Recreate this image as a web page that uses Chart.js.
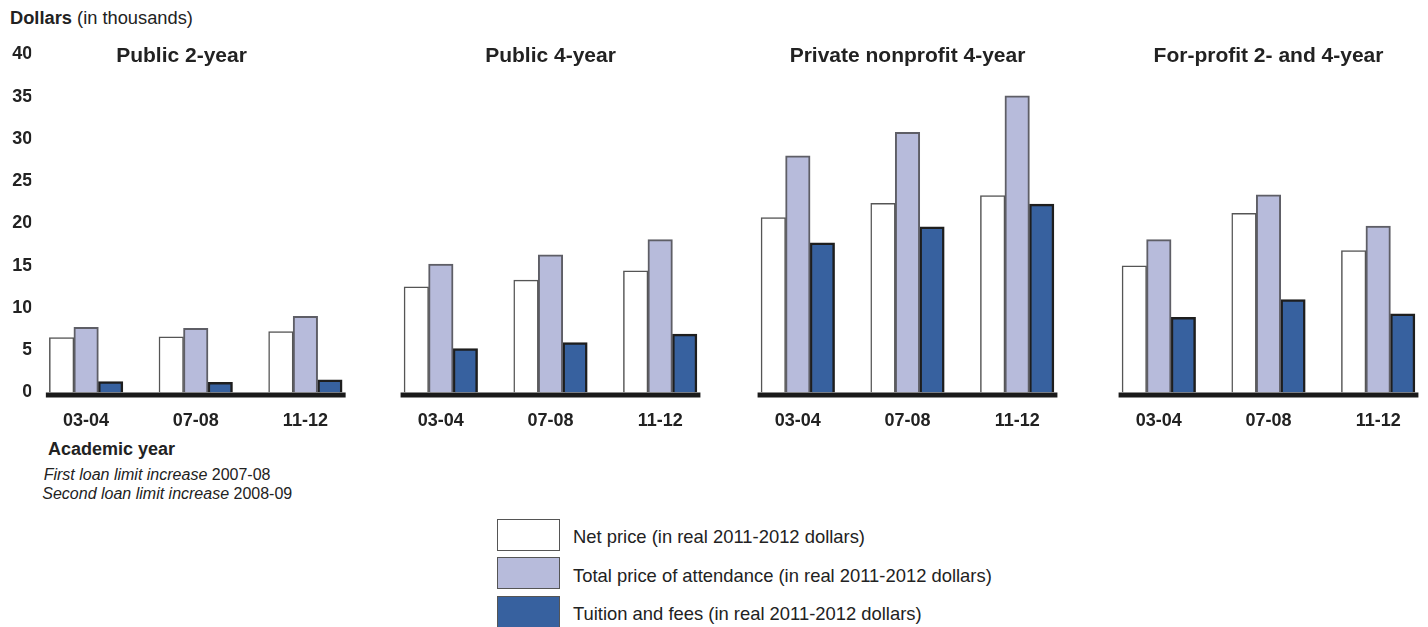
<!DOCTYPE html>
<html>
<head>
<meta charset="utf-8">
<script src="https://cdn.jsdelivr.net/npm/chart.js@4.4.1/dist/chart.umd.min.js"></script>
<style>
    html, body { margin: 0; padding: 0; background: #fff; overflow: hidden; }
    body { width: 1428px; height: 627px; position: relative; font-family: 'Liberation Sans', Arial, sans-serif; color: #222; }
    canvas { position: absolute; top: 0; }
    .txt { position: absolute; white-space: nowrap; line-height: 18px; font-size: 18px; }
    .note { position: absolute; white-space: nowrap; line-height: 16px; font-size: 16px; }
    .leg { position: absolute; left: 496.7px; height: 34px; }
    .leg .box { position: absolute; left: 0; top: 0; width: 61px; height: 30px; border: 1.5px solid #555; }
    .leg .lab { position: absolute; left: 76.3px; top: 9.3px; white-space: nowrap; font-size: 18.4px; line-height: 18px; }
</style>
</head>
<body>
<div class="txt" style="left:10px; top:9.4px; font-size:18.3px;"><b>Dollars</b> (in thousands)</div>
<div class="txt" style="left:48px; top:440.4px; font-weight:bold;">Academic year</div>
<div class="note" style="left:43.7px; top:467.4px;"><i>First loan limit increase</i> 2007-08</div>
<div class="note" style="left:42.3px; top:486px;"><i>Second loan limit increase</i> 2008-09</div>
<div id="legend"></div>

<canvas id="p0" width="363" height="627" style="left:0px"></canvas>
<canvas id="p1" width="329" height="627" style="left:386.2px"></canvas>
<canvas id="p2" width="329" height="627" style="left:743px"></canvas>
<canvas id="p3" width="329" height="627" style="left:1104.3px"></canvas>

<script>
// Dados (milhares de dólares)
const years = ['03-04', '07-08', '11-12'];
const sectors = ['Public 2-year', 'Public 4-year', 'Private nonprofit 4-year', 'For-profit 2- and 4-year'];
const seriesNames = [
    'Net price (in real 2011-2012 dollars)',
    'Total price of attendance (in real 2011-2012 dollars)',
    'Tuition and fees (in real 2011-2012 dollars)'
];

// uma linha por setor, um valor por ano
const netPrice = [
    [6.5, 6.6, 7.2],
    [12.5, 13.3, 14.4],
    [20.7, 22.4, 23.3],
    [15.0, 21.2, 16.8]
];
const totalPrice = [
    [7.7, 7.6, 9.0],
    [15.2, 16.3, 18.1],
    [28.0, 30.8, 35.1],
    [18.1, 23.4, 19.7]
];
const tuitionFees = [
    [1.3, 1.2, 1.5],
    [5.2, 5.9, 6.9],
    [17.7, 19.6, 22.3],
    [8.9, 11.0, 9.3]
];
const yMax = 40;
const yStep = 5;

// Estilos
const fills = ['#ffffff', '#b7bbdb', '#37619f'];
const borders = ['#555555', '#5e5e66', '#1e1e1e'];
const borderWidths = [1.5, 2, 2.5];
const FONT = "'Liberation Sans', Arial, sans-serif";

Chart.defaults.font.family = FONT;
Chart.defaults.color = '#222';

// Legenda em HTML
const legendEl = document.getElementById('legend');
seriesNames.forEach(function (name, i) {
    const row = document.createElement('div');
    row.className = 'leg';
    row.style.top = (519 + i * 38.35) + 'px';
    row.innerHTML = '<div class="box" style="background:' + fills[i] + '"></div><div class="lab">' + name + '</div>';
    legendEl.appendChild(row);
});

// Linha grossa da base, só sob as barras
const baseLine = {
    id: 'baseLine',
    afterDatasetsDraw(chart) {
        const first = chart.getDatasetMeta(0).data[0];
        const last = chart.getDatasetMeta(2).data[2];
        const y = chart.scales.y.getPixelForValue(0) + 2.5;
        const ctx = chart.ctx;
        ctx.save();
        ctx.strokeStyle = '#1a1a1a';
        ctx.lineWidth = 5;
        ctx.beginPath();
        ctx.moveTo(first.x - first.width / 2 - 3.5, y);
        ctx.lineTo(last.x + last.width / 2 + 3.5, y);
        ctx.stroke();
        ctx.restore();
    }
};

// Título do painel
const panelTitle = {
    id: 'panelTitle',
    afterDraw(chart, args, opts) {
        const ctx = chart.ctx;
        ctx.save();
        ctx.font = 'bold 21px ' + FONT;
        ctx.fillStyle = '#222';
        ctx.textAlign = 'center';
        ctx.textBaseline = 'alphabetic';
        ctx.fillText(opts.text, chart.width / 2, 62);
        ctx.restore();
    }
};

function createPanel(idx) {
    const showY = idx === 0;
    const data = [netPrice[idx], totalPrice[idx], tuitionFees[idx]];
    const yAxis = {
        display: showY,
        min: 0,
        max: yMax,
        grid: { display: false, drawTicks: false },
        border: { display: false },
        ticks: { stepSize: yStep, font: { size: 18, weight: 'bold' }, padding: -1, color: '#222' }
    };
    if (showY) {
        yAxis.afterFit = function (s) { s.width = 31.3; };
    }
    return new Chart(document.getElementById('p' + idx), {
        type: 'bar',
        data: {
            labels: years,
            datasets: data.map(function (vals, i) {
                return {
                    label: seriesNames[i],
                    data: vals,
                    backgroundColor: fills[i],
                    borderColor: borders[i],
                    borderWidth: borderWidths[i],
                    barThickness: 24.5
                };
            })
        },
        options: {
            responsive: false,
            animation: false,
            devicePixelRatio: 1,
            layout: { padding: { top: 54.5, bottom: 194.5, left: 0, right: showY ? 2.8 : 0 } },
            plugins: {
                legend: { display: false },
                tooltip: { enabled: false },
                panelTitle: { text: sectors[idx] }
            },
            scales: {
                x: {
                    offset: true,
                    grid: { display: false },
                    border: { display: false },
                    ticks: { font: { size: 18, weight: 'bold' }, padding: 10, color: '#222' },
                    afterFit: function (s) { s.height = 40; }
                },
                y: yAxis
            }
        },
        plugins: [baseLine, panelTitle]
    });
}

sectors.forEach(function (s, i) { createPanel(i); });
</script>
</body>
</html>
